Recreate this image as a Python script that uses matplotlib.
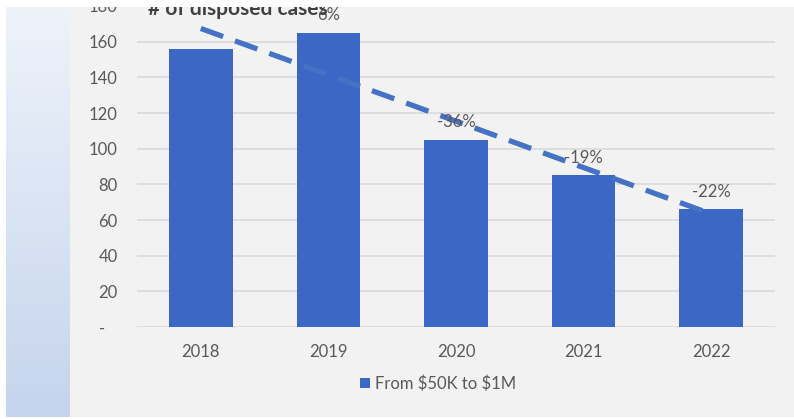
#!usr/bin/env python3

# Bar chart of disposed cases per year with year-over-year change and a linear trendline

import matplotlib
matplotlib.use('Agg')
import matplotlib.pyplot as plt
from matplotlib.colors import LinearSegmentedColormap
from matplotlib.patches import Rectangle
import numpy as np

years = ['2018', '2019', '2020', '2021', '2022']
cases = [156, 165, 105, 85, 66]
change_labels = ['', '6%', '-36%', '-19%', '-22%']
y_ticks = [0, 20, 40, 60, 80, 100, 120, 140, 160, 180]
y_tick_labels = ['-   ', '20', '40', '60', '80', '100', '120', '140', '160', '180']
series_name = r'From \$50K to \$1M'
title = '# of disposed cases'


def main():
    plt.rcParams['font.family'] = ['Lato', 'DejaVu Sans']

    W, H = 794, 419
    fig = plt.figure(figsize=(W / 100, H / 100), dpi=100)
    fig.patch.set_facecolor('white')

    # side panel with a light vertical gradient
    ax_side = fig.add_axes([6 / W, 2 / H, 64 / W, 1 - 9 / H], zorder=-3)
    side_cmap = LinearSegmentedColormap.from_list('side', ['#eef3fa', '#c5d4ed'])
    ax_side.imshow(np.linspace(0, 1, 100).reshape(-1, 1), aspect='auto', cmap=side_cmap)
    ax_side.axis('off')

    # chart background
    fig.patches.append(Rectangle((70 / W, 2 / H), 1 - 70 / W, 1 - 9 / H,
                                 transform=fig.transFigure, facecolor='#f2f2f2',
                                 edgecolor='none', zorder=-2))

    ax = fig.add_axes([137 / W, 1 - 327 / H, 638 / W, 321 / H])
    ax.set_facecolor('none')

    x = np.arange(len(years))
    bars = ax.bar(x, cases, width=0.5, color='#3b68c4', zorder=2, label=series_name)

    # linear trendline like the spreadsheet one
    coef = np.polyfit(x, cases, 1)
    ax.plot(x, np.polyval(coef, x), color='#4472c4', linewidth=3.8,
            dashes=(4.5, 2.4), zorder=3)

    for xi, val, lab in zip(x, cases, change_labels):
        if lab:
            ax.annotate(lab, (xi, val), xytext=(0, 7), textcoords='offset points',
                        ha='center', va='bottom', fontsize=12, color='#595959', zorder=4)

    ax.set_xlim(-0.5, len(years) - 0.5)
    ax.set_ylim(0, 180)
    ax.set_yticks(y_ticks)
    ax.set_yticklabels(y_tick_labels)
    ax.set_xticks(x)
    ax.set_xticklabels(years)
    ax.tick_params(axis='both', length=0, labelsize=12, labelcolor='#595959')
    ax.tick_params(axis='y', pad=14)
    ax.tick_params(axis='x', pad=12)
    ax.grid(axis='y', color='#d9d9d9', linewidth=1.2, zorder=0)
    ax.set_axisbelow(True)
    for side in ax.spines.values():
        side.set_visible(False)

    fig.text(148 / W, 1 - 15 / H, title, fontsize=15, fontweight='bold',
             color='#404040', va='baseline', ha='left')

    ax.legend(handles=[bars], loc='center', bbox_to_anchor=(438 / W, 1 - 384 / H),
              bbox_transform=fig.transFigure, frameon=False, fontsize=12,
              handlelength=0.55, handleheight=0.55, handletextpad=0.3,
              labelcolor='#595959')

    # the screenshot is cropped at the top: a white band hides the upper edge
    fig.patches.append(Rectangle((0, 1 - 7 / H), 1, 7 / H, transform=fig.transFigure,
                                 facecolor='white', edgecolor='none', zorder=10))

    fig.savefig('out.png', dpi=100)


if __name__ == "__main__":
    main()
